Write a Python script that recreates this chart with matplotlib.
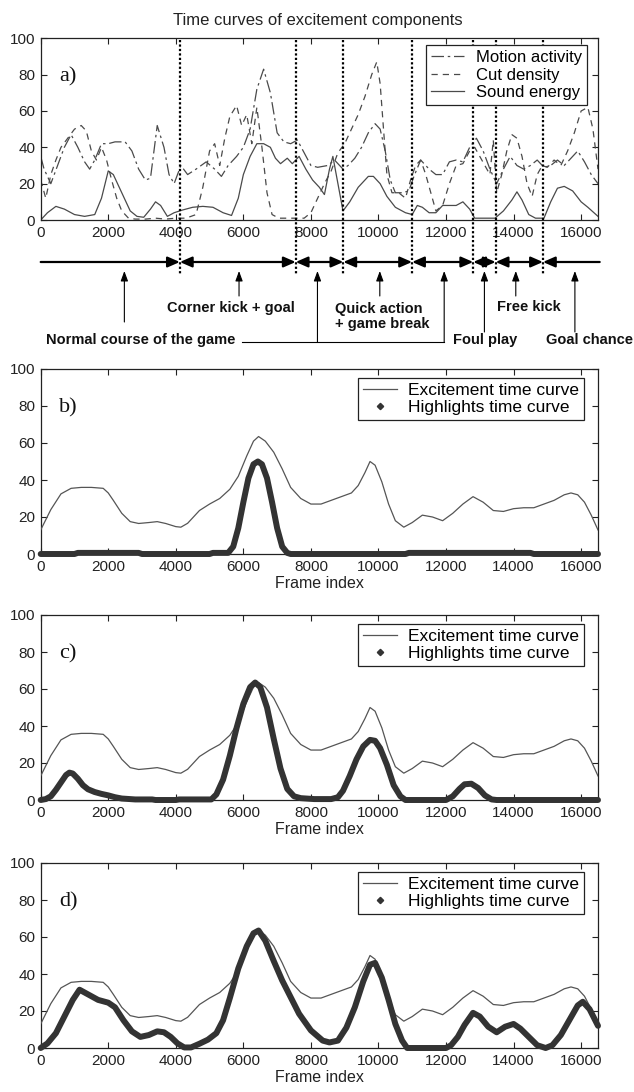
import matplotlib
matplotlib.use("Agg")
import matplotlib.pyplot as plt
from matplotlib.lines import Line2D
from matplotlib.transforms import blended_transform_factory

# ---------------- data ----------------
# panel a: excitement components
sound_x = [0, 200, 450, 700, 1000, 1300, 1600, 1800, 2000, 2150, 2400, 2650, 2850, 3050, 3250, 3400, 3550, 3750, 3950, 4200,
           4500, 4800, 5100, 5400, 5650, 5850, 6000, 6200, 6400, 6600, 6800, 6950, 7100, 7300, 7450, 7650, 7850, 8050, 8250, 8400,
           8550, 8650, 8800, 8950, 9150, 9400, 9700, 9850, 10050, 10250, 10500, 10800, 11000, 11150, 11300, 11500, 11700, 11900,
           12100, 12300, 12500, 12700, 12850, 13100, 13450, 13700, 13950, 14100, 14250, 14450, 14650, 14900, 15100, 15300, 15500,
           15750, 16000, 16200, 16500]
sound_y = [0, 4, 7.5, 6, 3, 2, 3, 12, 27, 25, 15, 5, 2, 1.5, 6, 10, 8, 2, 4, 5.5,
           7, 7.5, 7, 4, 2.5, 12, 25, 35, 42, 42, 40, 34, 31, 34, 31, 35, 28, 22, 18, 14,
           28, 35, 20, 5, 10, 18, 24, 24, 20, 13, 7, 4, 3, 8, 7, 4, 4, 8,
           8, 8, 10, 6, 1, 1, 1, 5, 11, 15.5, 11, 3, 1, 1, 10, 17.5, 18.5,
           16, 10, 7, 2]

motion_x = [0, 100, 300, 500, 700, 900, 1100, 1300, 1450, 1600, 1800, 2000, 2200, 2500, 2700, 2900, 3100, 3250, 3450, 3650,
            3800, 3950, 4150, 4350, 4600, 4900, 5150, 5350, 5550, 5800, 6000, 6200, 6400, 6600, 6800, 7000, 7200, 7400, 7600,
            7800, 8000, 8200, 8500, 8700, 8950, 9100, 9300, 9500, 9700, 9900, 10050, 10200, 10350, 10500, 10700, 10900, 11050,
            11250, 11500, 11700, 11900, 12100, 12300, 12500, 12700, 12900, 13100, 13300, 13500, 13700, 13900, 14100, 14300,
            14500, 14700, 14900, 15100, 15300, 15500, 15700, 15900, 16100, 16300, 16500]
motion_y = [35, 28, 20, 30, 40, 47, 40, 32, 28, 33, 42, 42, 43, 43, 38, 28, 22, 23, 52, 40,
            25, 20, 30, 25, 28, 32, 28, 24, 30, 35, 40, 50, 72, 83, 70, 48, 43, 42, 44,
            37, 30, 29, 30, 33, 28, 30, 34, 40, 48, 53, 50, 38, 22, 15, 15, 16, 24,
            33, 28, 25, 25, 32, 33, 32, 40, 45, 38, 28, 20, 28, 35, 30, 28,
            30, 33, 29, 30, 33, 30, 34, 38, 32, 25, 20]

cut_x = [0, 150, 300, 450, 600, 800, 1000, 1200, 1350, 1500, 1650, 1800, 1950, 2100, 2250, 2400, 2600, 2800, 3100, 3400,
         3700, 4000, 4300, 4600, 4800, 5000, 5150, 5300, 5450, 5600, 5800, 5950, 6100, 6250, 6400, 6550, 6700, 6850, 7050,
         7300, 7600, 7800, 8000, 8200, 8400, 8600, 8800, 9000, 9200, 9400, 9600, 9800, 9950, 10050, 10150, 10250, 10400,
         10600, 10800, 10950, 11100, 11250, 11400, 11550, 11700, 11900, 12100, 12300, 12500, 12700, 12850, 13000, 13150,
         13300, 13400, 13500, 13650, 13800, 13950, 14100, 14250, 14400, 14550, 14700, 14850, 15000, 15200, 15400, 15600,
         15800, 16000, 16200, 16350, 16500]
cut_y = [22, 12, 25, 33, 40, 45, 50, 52, 49, 38, 33, 40, 33, 22, 12, 5, 1, 0.5, 0.5, 1,
         0.5, 1, 1, 3, 18, 38, 42, 30, 45, 57, 63, 52, 58, 42, 62, 40, 15, 3, 1,
         1, 1, 1, 4, 12, 20, 27, 37, 42, 50, 58, 68, 80, 87, 75, 50, 25, 15,
         15, 12, 22, 30, 33, 25, 15, 5, 8, 20, 30, 31, 38, 40, 35, 30,
         25, 44, 15, 25, 38, 47, 45, 35, 20, 13, 25, 30, 29, 33, 30, 38,
         48, 60, 62, 50, 28]

# panels b-d: excitement time curve (same in all panels)
ex_x = [0, 300, 600, 900, 1200, 1500, 1850, 2000, 2150, 2400, 2650, 2900, 3200, 3450, 3700, 4000, 4150, 4350, 4700, 5000,
        5300, 5600, 5850, 6100, 6300, 6450, 6650, 6900, 7150, 7400, 7700, 8000, 8300, 8600, 8900, 9200, 9400, 9600, 9750,
        9900, 10100, 10300, 10500, 10750, 11000, 11300, 11600, 11900, 12200, 12500, 12800, 13100, 13400, 13700, 14000,
        14300, 14600, 14900, 15200, 15500, 15700, 15900, 16100, 16300, 16500]
ex_y = [13, 24, 32.5, 35.5, 36, 36, 35.5, 33, 29, 22, 17.5, 16.5, 17, 17.5, 16.5, 14.8, 14.5, 16.6, 23.5, 27,
        30, 35, 42, 53, 61, 63.5, 61, 55, 46, 36, 30, 27, 27, 29, 31, 33, 37, 44, 50,
        48, 39, 27, 18, 14.5, 17, 21, 20, 18, 22, 27, 31, 28, 23.5, 23, 24.5,
        25, 25, 27, 29, 32, 33, 32, 28, 21, 13]

# highlights time curves
hb_x = [0, 1000, 1100, 2900, 3000, 5000, 5100, 5550, 5700, 5850, 6000, 6150, 6300, 6430, 6550, 6700, 6850, 7000, 7150,
        7300, 7400, 10800, 10900, 14500, 14600, 16500]
hb_y = [0, 0, 0.6, 0.6, 0, 0, 0.6, 0.6, 4, 14, 28, 41, 48.5, 50, 48.5, 41, 28, 14, 4,
        0.6, 0, 0, 0.6, 0.6, 0, 0]

hc_x = [0, 150, 300, 450, 600, 750, 850, 950, 1100, 1250, 1400, 1600, 1800, 2000, 2200, 2400, 2800, 3300, 3400, 4000,
        4100, 5050, 5200, 5400, 5600, 5800, 6000, 6200, 6350, 6500, 6700, 6900, 7100, 7300, 7500, 7700, 8100, 8600,
        8800, 8950, 9150, 9350, 9550, 9750, 9900, 10050, 10250, 10450, 10650, 10800, 12000, 12200, 12400, 12550,
        12750, 12950, 13150, 13350, 13500, 16500]
hc_y = [0, 0.5, 2, 5.5, 9.5, 13.5, 14.8, 14.3, 11.5, 8, 5.8, 4.3, 3.3, 2.5, 1.5, 0.8, 0.3, 0.3, 0, 0,
        0.3, 0.3, 3, 11, 24, 39, 52, 61, 63.5, 61, 50, 33, 17, 6, 2, 1, 0.5, 0.5,
        1.5, 5, 13, 22, 29, 32.5, 32, 28, 19, 8, 2, 0, 0, 2, 6, 8.5,
        8.8, 6.5, 2.5, 0.3, 0, 0]

hd_x = [0, 200, 450, 700, 950, 1150, 1400, 1700, 2000, 2200, 2450, 2700, 2950, 3200, 3450, 3650, 3850, 4050, 4250, 4450,
        4700, 4950, 5200, 5400, 5600, 5850, 6100, 6300, 6450, 6650, 6900, 7150, 7400, 7650, 8000, 8350, 8550, 8800,
        9050, 9300, 9550, 9750, 9900, 10100, 10300, 10500, 10700, 10850, 12000, 12150, 12350, 12550, 12800, 13000,
        13250, 13500, 13750, 14000, 14200, 14450, 14700, 14950, 15150, 15400, 15650, 15900, 16050, 16250, 16500]
hd_y = [0, 2.5, 8, 17, 26, 31.5, 29, 26, 24.5, 22, 15, 9, 6, 7, 9, 8.5, 6, 2.5, 0.3, 0.3,
        2.3, 4.5, 8, 15, 27, 43, 55, 62, 63.5, 58, 47, 36.5, 27.5, 18.5, 9.5, 4, 3, 4,
        11, 22, 36, 45, 46, 38, 26, 13, 4, 0, 0, 1.5, 6, 12.5, 19, 17,
        11.5, 8.5, 11.5, 13, 10.5, 6, 1.5, 0, 1.5, 7, 15, 23, 25, 21, 12]

# event segmentation (frame boundaries) and labels
seg_bounds = [0, 4120, 7550, 8960, 10995, 12805, 13470, 14870, 16550]
event_arrow_x = [2477, 5872, 8194, 10040, 11946, 13137, 14066, 15816]

x_ticks = [0, 2000, 4000, 6000, 8000, 10000, 12000, 14000, 16000]
y_ticks = [0, 20, 40, 60, 80, 100]
legend_a = ["Motion activity", "Cut density", "Sound energy"]
legend_bcd = ["Excitement time curve", "Highlights time curve"]
panel_labels = ["a)", "b)", "c)", "d)"]

# ---------------- figure ----------------
W, H = 634, 1092
fig = plt.figure(figsize=(W / 100, H / 100), dpi=100)
plt.rcParams['font.family'] = ['Liberation Sans', 'DejaVu Sans']

def fy(px):
    return 1 - px / H

left = 40.7 / W
width = (598 - 40.7) / W
panel_px = [(38.3, 220), (369, 554), (615, 800), (863, 1048)]
axes = []
for top, bot in panel_px:
    ax = fig.add_axes([left, fy(bot), width, (bot - top) / H])
    axes.append(ax)

line_gray = '#4a4a4a'
hl_color = '#333333'

for i, ax in enumerate(axes):
    ax.set_xlim(0, 16500)
    ax.set_ylim(0, 100)
    ax.set_xticks(x_ticks)
    ax.set_yticks(y_ticks)
    ax.tick_params(direction='in', length=4, width=0.8, top=True, right=True,
                   labelsize=11, pad=4, colors='#222222')
    for s in ax.spines.values():
        s.set_linewidth(0.9)
        s.set_color('#222222')
    ax.text(540, 79, panel_labels[i], family=['Liberation Serif', 'DejaVu Serif'],
            fontsize=16, va='center', ha='left', color='#111111')

# panel a
ax_a = axes[0]
ax_a.plot(motion_x, motion_y, color=line_gray, lw=0.9, ls=(0, (10, 3, 2, 3)), label=legend_a[0])
ax_a.plot(cut_x, cut_y, color=line_gray, lw=0.9, ls=(0, (5, 4)), label=legend_a[1])
ax_a.plot(sound_x, sound_y, color=line_gray, lw=0.9, ls='-', label=legend_a[2])
la = ax_a.legend(loc='upper right', bbox_to_anchor=(0.980, 0.963), borderaxespad=0,
                 fancybox=False, edgecolor='#222222', framealpha=1, fontsize=12,
                 handlelength=2.0, handletextpad=0.7, labelspacing=0.15, borderpad=0.3)
la.get_frame().set_linewidth(0.9)
la.set_zorder(6)

fig.text(0.502, fy(20), "Time curves of excitement components", ha='center', va='center',
         fontsize=12, color='#222222')

# annotation under panel a
trans = blended_transform_factory(ax_a.transData, fig.transFigure)
for b in seg_bounds[1:-1]:
    ax_a.plot([b, b], [fy(40), fy(275)], transform=trans, clip_on=False,
              color='black', lw=1.6, ls=(0, (1, 1)), zorder=3)

y_line = fy(262)
nseg = len(seg_bounds) - 1
for k in range(nseg):
    x0, x1 = seg_bounds[k], seg_bounds[k + 1]
    if k == 0:
        style = '-|>'
    elif k == nseg - 1:
        style = '<|-'
    else:
        style = '<|-|>'
    ax_a.annotate('', xy=(x1, y_line), xytext=(x0, y_line), xycoords=trans, textcoords=trans,
                  annotation_clip=False,
                  arrowprops=dict(arrowstyle=style + ',head_length=0.8,head_width=0.35',
                                  color='black', lw=1.6, shrinkA=0, shrinkB=0,
                                  mutation_scale=9))

tails_px = [322, 296, 342, 296, 342, 332, 296, 332]
for xa, tp in zip(event_arrow_x, tails_px):
    ax_a.annotate('', xy=(xa, fy(271)), xytext=(xa, fy(tp)), xycoords=trans, textcoords=trans,
                  annotation_clip=False,
                  arrowprops=dict(arrowstyle='-|>,head_length=0.6,head_width=0.22',
                                  color='black', lw=0.8, shrinkA=0, shrinkB=0,
                                  mutation_scale=10))
# connector from "Normal course of the game"
ax_a.plot([5964, event_arrow_x[4]], [fy(342), fy(342)], transform=trans, clip_on=False,
          color='black', lw=0.8)

bold = dict(fontsize=10.5, fontweight='bold', color='#111111', transform=trans, clip_on=False)
ax_a.text(5633, fy(308), "Corner kick + goal", ha='center', va='center', **bold)
ax_a.text(8720, fy(316.5), "Quick action\n+ game break", ha='left', va='center',
          linespacing=1.15, **bold)
ax_a.text(14468, fy(307), "Free kick", ha='center', va='center', **bold)
ax_a.text(2957, fy(340), "Normal course of the game", ha='center', va='center', **bold)
ax_a.text(13164, fy(340), "Foul play", ha='center', va='center', **bold)
ax_a.text(14960, fy(340), "Goal chance", ha='left', va='center', **bold)

# panels b-d
hl_sets = [(hb_x, hb_y), (hc_x, hc_y), (hd_x, hd_y)]
for ax, (hx, hy) in zip(axes[1:], hl_sets):
    ax.plot(ex_x, ex_y, color='#555555', lw=0.9, zorder=3)
    ax.plot(hx, hy, color=hl_color, lw=4.3, solid_capstyle='round', solid_joinstyle='round',
            zorder=4, clip_on=False)
    h1 = Line2D([], [], color='#555555', lw=0.9)
    h2 = Line2D([], [], color=hl_color, marker='D', ms=3.2, ls='none')
    lg = ax.legend([h1, h2], legend_bcd, loc='upper right', bbox_to_anchor=(0.975, 0.953),
                   borderaxespad=0, fancybox=False, edgecolor='#222222', framealpha=1,
                   fontsize=12.5, handlelength=2.0, handletextpad=0.6, labelspacing=0.1,
                   borderpad=0.3)
    lg.get_frame().set_linewidth(0.9)
    lg.set_zorder(6)
    ax.set_xlabel("Frame index", fontsize=11.5, labelpad=2, color='#222222')

fig.savefig("out.png", dpi=100)
